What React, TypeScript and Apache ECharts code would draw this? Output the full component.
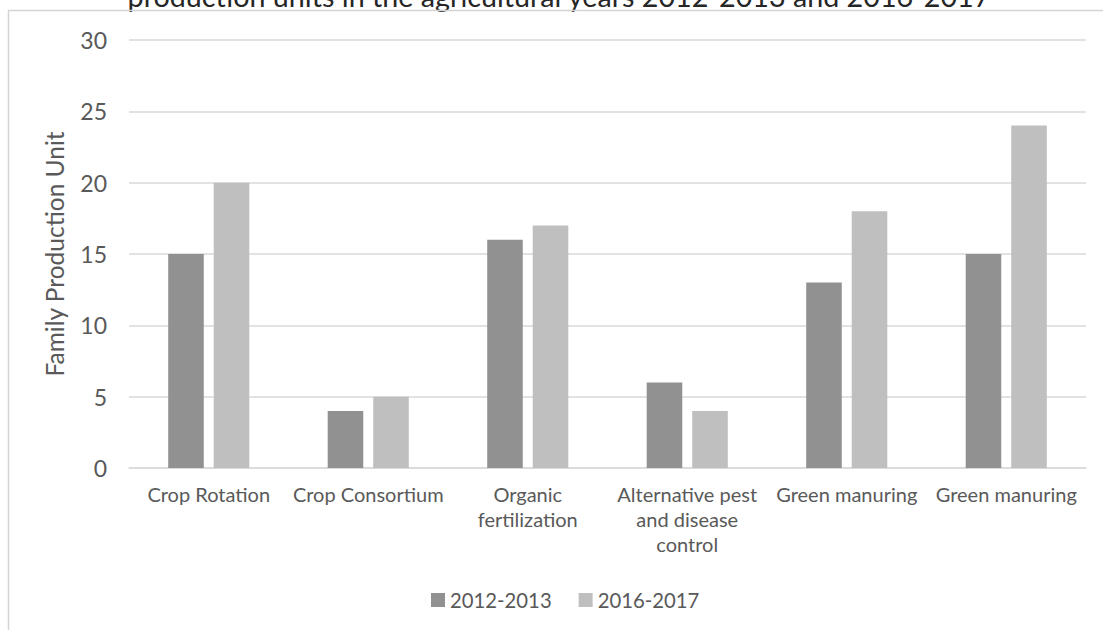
import React, { useEffect, useRef } from "react";
import * as echarts from "echarts";

const categories = [
  "Crop Rotation",
  "Crop Consortium",
  "Organic\nfertilization",
  "Alternative pest\nand disease\ncontrol",
  "Green manuring",
  "Green manuring",
];
const seriesNames = ["2012-2013", "2016-2017"];
const values2012 = [15, 4, 16, 6, 13, 15];
const values2016 = [20, 5, 17, 4, 18, 24];
const yTicks = { min: 0, max: 30, interval: 5 };
const titleText =
  "production units in the agricultural years 2012-2013 and 2016-2017";

const FONT = "Lato, 'Open Sans', sans-serif";
const TEXT = "#595959";

export default function App() {
  const ref = useRef<HTMLDivElement>(null);

  useEffect(() => {
    if (!ref.current) return;
    const chart = echarts.init(ref.current, null, { renderer: "svg" });
    chart.setOption({
      animation: false,
      backgroundColor: "#ffffff",
      textStyle: { fontFamily: FONT },
      graphic: [
        {
          type: "text",
          x: 559,
          y: -4,
          style: {
            text: titleText,
            fill: "#262626",
            font: `28.7px ${FONT}`,
            align: "center",
            verticalAlign: "middle",
          },
        },
        {
          type: "polyline",
          shape: {
            points: [
              [8.5, 640],
              [8.5, 10.5],
              [1110, 10.5],
            ],
          },
          style: { stroke: "#d4d4d4", lineWidth: 1.5, fill: "none" },
        },
      ],
      legend: {
        data: seriesNames,
        left: 431,
        top: 590,
        padding: 0,
        itemWidth: 14,
        itemHeight: 14,
        itemGap: 27,
        icon: "rect",
        textStyle: { color: TEXT, fontSize: 20.3, fontFamily: FONT },
      },
      grid: { left: 129, right: 17, top: 40, bottom: 162 },
      xAxis: {
        type: "category",
        data: categories,
        axisLine: { lineStyle: { color: "#d9d9d9", width: 1.5 } },
        axisTick: { show: false },
        axisLabel: {
          color: TEXT,
          fontSize: 20,
          lineHeight: 25,
          margin: 13,
          interval: 0,
          fontFamily: FONT,
        },
      },
      yAxis: {
        type: "value",
        min: yTicks.min,
        max: yTicks.max,
        interval: yTicks.interval,
        name: "Family Production Unit",
        nameLocation: "middle",
        nameGap: 62,
        nameTextStyle: { color: TEXT, fontSize: 24.5, fontFamily: FONT },
        axisLine: { show: false },
        axisTick: { show: false },
        splitLine: { lineStyle: { color: "#d9d9d9", width: 1.5 } },
        axisLabel: { color: TEXT, fontSize: 23, margin: 22, fontFamily: FONT },
      },
      series: [
        {
          name: seriesNames[0],
          type: "bar",
          data: values2012,
          barWidth: "22.3%",
          barGap: "28%",
          itemStyle: { color: "#919191" },
        },
        {
          name: seriesNames[1],
          type: "bar",
          data: values2016,
          barWidth: "22.3%",
          itemStyle: { color: "#bfbfbf" },
        },
      ],
    });
    return () => chart.dispose();
  }, []);

  return (
    <div
      ref={ref}
      style={{ position: "fixed", left: 0, top: 0, width: 1103, height: 630 }}
    />
  );
}
